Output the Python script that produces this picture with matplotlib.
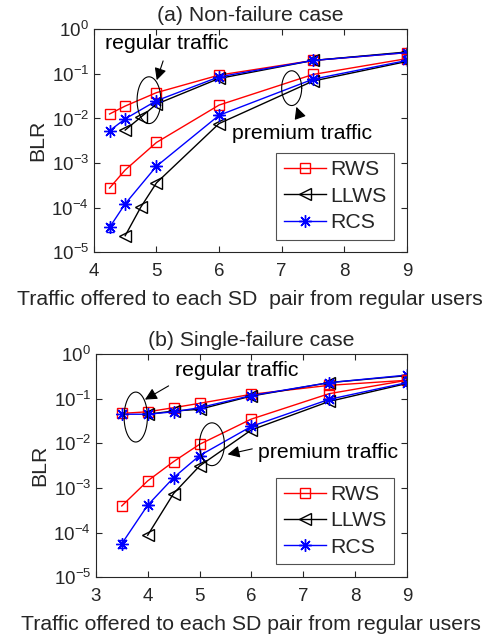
import numpy as np
import matplotlib
matplotlib.use('Agg')
import matplotlib.pyplot as plt

plt.rcParams['font.family'] = ['Liberation Sans', 'DejaVu Sans']
GRAY = '#262626'
plt.rcParams['axes.edgecolor'] = GRAY
plt.rcParams['xtick.color'] = GRAY
plt.rcParams['ytick.color'] = GRAY
plt.rcParams['text.color'] = GRAY
plt.rcParams['axes.labelcolor'] = GRAY

# (a) Non-failure case
a_reg_x_rws = [4.25, 4.5, 5, 6, 7.5, 9]
a_reg_rws = [0.0126, 0.019, 0.038, 0.094, 0.20, 0.30]
a_reg_x_llws = [4.5, 4.75, 5, 6, 7.5, 9]
a_reg_llws = [0.0055, 0.0107, 0.021, 0.079, 0.20, 0.31]
a_reg_x_rcs = [4.25, 4.5, 5, 6, 7.5, 9]
a_reg_rcs = [0.0053, 0.0098, 0.025, 0.086, 0.20, 0.30]

a_pre_x_rws = [4.25, 4.5, 5, 6, 7.5, 9]
a_pre_rws = [2.75e-4, 7e-4, 2.9e-3, 0.020, 0.097, 0.22]
a_pre_x_llws = [4.5, 4.75, 5, 6, 7.5, 9]
a_pre_llws = [2.35e-5, 1.03e-4, 3.6e-4, 7.7e-3, 0.069, 0.19]
a_pre_x_rcs = [4.25, 4.5, 5, 6, 7.5, 9]
a_pre_rcs = [3.6e-5, 1.22e-4, 8.5e-4, 0.0118, 0.076, 0.20]
a_pre_rcs_err = [0.8e-5, 0, 0, 0, 0, 0]

# (b) Single-failure case
b_reg_x_rws = [3.5, 4, 4.5, 5, 6, 7.5, 9]
b_reg_rws = [0.047, 0.051, 0.063, 0.079, 0.126, 0.20, 0.26]
b_reg_x_llws = [4, 4.5, 5, 6, 7.5, 9]
b_reg_llws = [0.045, 0.053, 0.058, 0.115, 0.23, 0.33]
b_reg_x_rcs = [3.5, 4, 4.5, 5, 6, 7.5, 9]
b_reg_rcs = [0.045, 0.045, 0.051, 0.063, 0.118, 0.23, 0.34]

b_pre_x_rws = [3.5, 4, 4.5, 5, 6, 7.5, 9]
b_pre_rws = [3.95e-4, 1.44e-3, 3.9e-3, 9.5e-3, 0.035, 0.13, 0.26]
b_pre_x_llws = [4, 4.5, 5, 6, 7.5, 9]
b_pre_llws = [8.7e-5, 7.5e-4, 3.1e-3, 0.020, 0.087, 0.22]
b_pre_x_rcs = [3.5, 4, 4.5, 5, 6, 7.5, 9]
b_pre_rcs = [5.6e-5, 4.1e-4, 1.7e-3, 5.3e-3, 0.024, 0.097, 0.23]
b_pre_rcs_err = [1.2e-5, 0, 0, 0, 0, 0, 0]

FS = 15.3
STAR = (8, 2, 0)
styles = {
    'RWS': dict(color='red', marker='s', ms=7, mfc='none', lw=1.0),
    'LLWS': dict(color='black', marker='<', ms=9, mfc='none', lw=1.0),
    'RCS': dict(color='blue', marker=STAR, ms=9, lw=1.0),
}


def log_ellipse(ax, xc, logyc, w, h):
    t = np.linspace(0, 2 * np.pi, 200)
    ax.plot(xc + w / 2 * np.cos(t), 10 ** (logyc + h / 2 * np.sin(t)), color='black', lw=0.8)


def draw_panel(ax, reg, pre, rcs_err, xlim, xticks):
    for (x, y), name in zip(reg, ['RWS', 'LLWS', 'RCS']):
        ax.plot(x, y, **styles[name])
    for (x, y), name in zip(pre, ['RWS', 'LLWS', 'RCS']):
        ax.plot(x, y, label=name, **styles[name])
        if name == 'RCS':
            ax.errorbar(x, y, yerr=rcs_err, fmt='none', ecolor='blue', capsize=3, lw=1.0)
    ax.set_yscale('log')
    ax.set_ylim(1e-5, 1)
    ax.set_xlim(*xlim)
    ax.set_xticks(xticks)
    ax.set_yticks([1e-5, 1e-4, 1e-3, 1e-2, 1e-1, 1])
    ax.tick_params(which='both', direction='in', top=True, right=True, labelsize=13.5)
    ax.tick_params(axis='x', pad=8)
    ax.tick_params(which='major', length=4)
    ax.tick_params(which='minor', length=2)
    ax.tick_params(axis='x', which='minor', top=False, bottom=False)
    ax.set_ylabel('BLR', fontsize=FS, labelpad=3)
    leg = ax.legend(loc='lower right', fontsize=FS, fancybox=False, edgecolor=GRAY,
                    handlelength=2.0, borderaxespad=0.6, labelspacing=0.35,
                    borderpad=0.35, handletextpad=0.2)
    leg.get_frame().set_linewidth(0.8)


fig = plt.figure(figsize=(4.89, 6.37), dpi=100)
ax1 = fig.add_axes([0.192, 0.604, 0.640, 0.350])
ax2 = fig.add_axes([0.196, 0.094, 0.636, 0.350])

draw_panel(ax1,
           [(a_reg_x_rws, a_reg_rws), (a_reg_x_llws, a_reg_llws), (a_reg_x_rcs, a_reg_rcs)],
           [(a_pre_x_rws, a_pre_rws), (a_pre_x_llws, a_pre_llws), (a_pre_x_rcs, a_pre_rcs)],
           a_pre_rcs_err, (4, 9), [4, 5, 6, 7, 8, 9])
ax1.set_title('(a) Non-failure case', fontsize=FS, pad=6)
ax1.set_xlabel('Traffic offered to each SD  pair from regular users', fontsize=FS, labelpad=7)

draw_panel(ax2,
           [(b_reg_x_rws, b_reg_rws), (b_reg_x_llws, b_reg_llws), (b_reg_x_rcs, b_reg_rcs)],
           [(b_pre_x_rws, b_pre_rws), (b_pre_x_llws, b_pre_llws), (b_pre_x_rcs, b_pre_rcs)],
           b_pre_rcs_err, (3, 9), [3, 4, 5, 6, 7, 8, 9])
ax2.set_title('(b) Single-failure case', fontsize=FS, pad=6)
ax2.set_xlabel('Traffic offered to each SD pair from regular users', fontsize=FS, labelpad=7)

arrow = dict(arrowstyle='-|>', color='black', lw=0.8, mutation_scale=18)

# annotations panel (a)
log_ellipse(ax1, 4.88, -1.59, 0.38, 1.05)
ax1.text(4.18, 10 ** -0.45, 'regular traffic', fontsize=FS, color='black')
ax1.annotate('', xy=(4.99, 10 ** -1.2), xytext=(5.12, 10 ** -0.65), arrowprops=arrow)
log_ellipse(ax1, 7.16, -1.32, 0.32, 0.78)
ax1.text(6.2, 10 ** -2.45, 'premium traffic', fontsize=FS, color='black')
ax1.annotate('', xy=(7.22, 10 ** -1.68), xytext=(7.3, 10 ** -2.0), arrowprops=arrow)

# annotations panel (b)
log_ellipse(ax2, 3.77, -1.41, 0.45, 1.12)
ax2.text(4.52, 10 ** -0.5, 'regular traffic', fontsize=FS, color='black')
ax2.annotate('', xy=(3.9, 10 ** -1.05), xytext=(4.45, 10 ** -0.68), arrowprops=arrow)
log_ellipse(ax2, 5.24, -2.02, 0.48, 0.96)
ax2.text(6.12, 10 ** -2.32, 'premium traffic', fontsize=FS, color='black')
ax2.annotate('', xy=(5.49, 10 ** -2.26), xytext=(6.07, 10 ** -2.11), arrowprops=arrow)

fig.savefig('out.png', dpi=100)
